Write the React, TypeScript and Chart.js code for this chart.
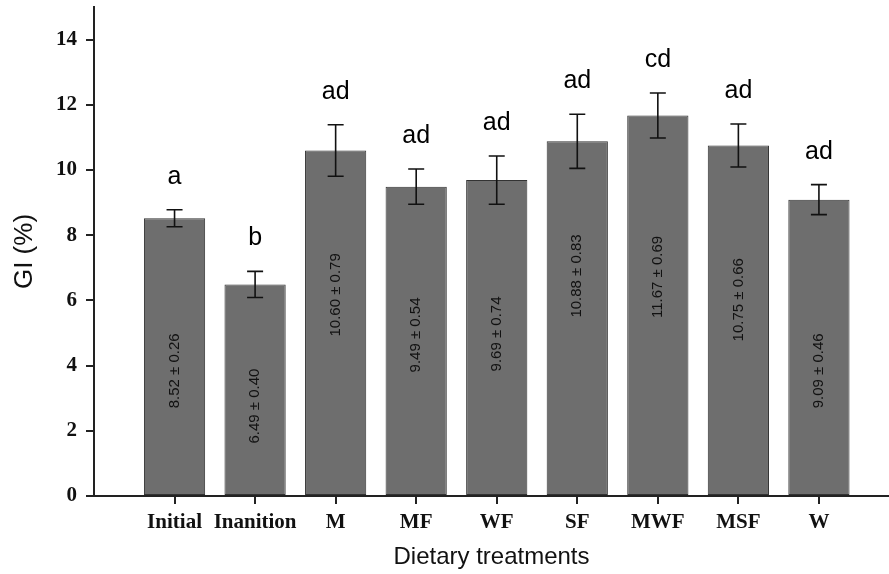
import React, { useEffect, useRef } from "react";
import { Chart, registerables } from "chart.js";

Chart.register(...registerables);

// Treatment groups and their GI (%) mean ± SEM
const categories = ["Initial", "Inanition", "M", "MF", "WF", "SF", "MWF", "MSF", "W"];
const means = [8.52, 6.49, 10.6, 9.49, 9.69, 10.88, 11.67, 10.75, 9.09];
const sems = [0.26, 0.4, 0.79, 0.54, 0.74, 0.83, 0.69, 0.66, 0.46];
const groupLetters = ["a", "b", "ad", "ad", "ad", "ad", "cd", "ad", "ad"];
const yTickValues = [0, 2, 4, 6, 8, 10, 12, 14];

// Height (in GI units) at which each rotated "mean ± SEM" label is centred
const statLabelAt = [3.84, 2.76, 6.17, 4.94, 4.97, 6.75, 6.72, 6.02, 3.84];

const barAnnotations = {
  id: "barAnnotations",
  afterDatasetsDraw(chart: any) {
    const { ctx } = chart;
    const yScale = chart.scales.y;
    const meta = chart.getDatasetMeta(0);
    ctx.save();
    meta.data.forEach((bar: any, i: number) => {
      const x = bar.x;
      const top = yScale.getPixelForValue(means[i] + sems[i]);
      const bottom = yScale.getPixelForValue(means[i] - sems[i]);
      const cap = 8;

      // error bar
      ctx.strokeStyle = "#111";
      ctx.lineWidth = 1.6;
      ctx.beginPath();
      ctx.moveTo(x, top);
      ctx.lineTo(x, bottom);
      ctx.moveTo(x - cap, top);
      ctx.lineTo(x + cap, top);
      ctx.moveTo(x - cap, bottom);
      ctx.lineTo(x + cap, bottom);
      ctx.stroke();

      // significance letters
      ctx.fillStyle = "#000";
      ctx.font = "25px Arial, 'Liberation Sans', sans-serif";
      ctx.textAlign = "center";
      ctx.textBaseline = "alphabetic";
      ctx.fillText(groupLetters[i], x, top - 26);

      // rotated mean ± SEM label inside the bar
      const ly = yScale.getPixelForValue(statLabelAt[i]);
      ctx.save();
      ctx.translate(x, ly);
      ctx.rotate(-Math.PI / 2);
      ctx.fillStyle = "#111";
      ctx.font = "15px Arial, 'Liberation Sans', sans-serif";
      ctx.textAlign = "center";
      ctx.textBaseline = "middle";
      ctx.fillText(`${means[i].toFixed(2)} ± ${sems[i].toFixed(2)}`, 0, 0);
      ctx.restore();
    });
    ctx.restore();
  },
};

const noScalePadding = (scale: any) => {
  scale.paddingTop = 0;
  scale.paddingBottom = 0;
  scale.paddingLeft = 0;
  scale.paddingRight = 0;
};

export default function App() {
  const canvasRef = useRef<HTMLCanvasElement | null>(null);

  useEffect(() => {
    if (!canvasRef.current) return;
    const tickFont = { family: "'Liberation Serif', 'Times New Roman', serif", size: 21, weight: "bold" as const };
    const chart = new Chart(canvasRef.current, {
      type: "bar",
      data: {
        datasets: [
          {
            label: "GI",
            data: means.map((m, i) => ({ x: i, y: m })),
            backgroundColor: "#6e6e6e",
            borderColor: "#333",
            borderWidth: 1,
            borderSkipped: false,
            categoryPercentage: 0.8,
            barPercentage: 0.95,
          },
        ],
      },
      options: {
        responsive: false,
        animation: false,
        layout: { padding: { top: 7, right: 0, left: 0, bottom: 0 } },
        plugins: {
          legend: { display: false },
          tooltip: { enabled: false },
        },
        scales: {
          x: {
            type: "linear",
            min: -1,
            max: 8.87,
            offset: false,
            afterFit: (scale: any) => {
              scale.height = 78;
              noScalePadding(scale);
            },
            afterBuildTicks: (scale: any) => {
              scale.ticks = categories.map((_, i) => ({ value: i }));
            },
            ticks: {
              autoSkip: false,
              maxRotation: 0,
              padding: 6,
              color: "#111",
              font: tickFont,
              callback: (v: any) => categories[Number(v)] ?? "",
            },
            grid: {
              display: true,
              offset: false,
              drawOnChartArea: false,
              drawTicks: true,
              tickLength: 8,
              color: "#222",
              lineWidth: 2,
            },
            border: { display: true, color: "#222", width: 2 },
            title: {
              display: true,
              text: "Dietary treatments",
              color: "#111",
              font: { family: "Arial, 'Liberation Sans', sans-serif", size: 24, lineHeight: 1.2 },
              padding: { top: 0, bottom: 2 },
            },
          },
          y: {
            type: "linear",
            min: 0,
            max: 15,
            afterFit: (scale: any) => {
              scale.width = 94;
              noScalePadding(scale);
            },
            afterBuildTicks: (scale: any) => {
              scale.ticks = yTickValues.map((v) => ({ value: v }));
            },
            ticks: {
              padding: 9,
              color: "#111",
              font: tickFont,
            },
            grid: {
              display: true,
              drawOnChartArea: false,
              drawTicks: true,
              tickLength: 8,
              color: "#222",
              lineWidth: 2,
            },
            border: { display: true, color: "#222", width: 2 },
            title: {
              display: true,
              text: "GI (%)",
              color: "#111",
              font: { family: "Arial, 'Liberation Sans', sans-serif", size: 26, lineHeight: 1.2 },
              padding: { top: 9, bottom: 0 },
            },
          },
        },
      },
      plugins: [barAnnotations],
    });
    return () => chart.destroy();
  }, []);

  return (
    <div style={{ position: "fixed", left: 0, top: 0, width: 889, height: 574, background: "#fff" }}>
      <canvas ref={canvasRef} width={889} height={574} style={{ display: "block" }} />
    </div>
  );
}
